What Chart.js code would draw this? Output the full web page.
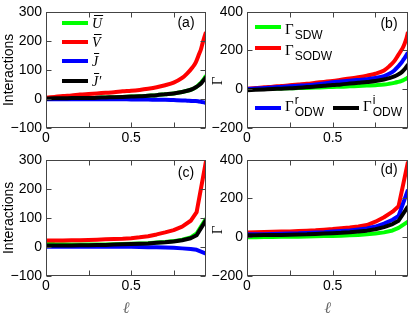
<!DOCTYPE html>
<html><head><meta charset="utf-8">
<script src="https://cdn.jsdelivr.net/npm/chart.js@4"></script>
<style>
html,body{margin:0;padding:0;background:#fff;width:411px;height:318px;overflow:hidden}
.p{position:absolute}
canvas{display:block}
</style></head><body>
<div class="p" style="left:0;top:0"><canvas id="ca" width="210" height="152"></canvas></div>
<div class="p" style="left:205px;top:0"><canvas id="cb" width="206" height="152"></canvas></div>
<div class="p" style="left:0;top:148px"><canvas id="cc" width="210" height="170"></canvas></div>
<div class="p" style="left:205px;top:148px"><canvas id="cd" width="206" height="170"></canvas></div>
<script>
// ---- data ----
const ellAB = [0,0.05,0.1,0.15,0.2,0.25,0.3,0.35,0.4,0.45,0.5,0.55,0.6,0.65,0.7,0.75,0.8,0.83,0.86,0.88,0.9,0.91,0.92,0.93,0.94];
const aU  = [1,2,2,3,3,3,4,5,6,7,8,9,11,13,16,19,24,28,34,40,50,55,63,71,80];
const aV  = [4,7,10,12,15,17,19,21,23,26,28,31,35,40,47,56,72,88,108,126,155,170,192,212,230];
const aJ  = [-1,-1,-1,-1,-1,-1,-1,-1,-1,-1,-2,-2,-2,-3,-3,-4,-5,-6,-7,-7,-9,-10,-11,-12,-14];
const aJp = [1,2,2,3,3,3,4,5,6,7,8,9,11,13,16,19,24,28,34,40,48,53,60,67,75];

const bSDW  = [0,1,2,3,4,5,6,7,9,10,12,13,15,17,19,21,24,28,33,37,42,46,50,55,62];
const bSODW = [3,6,10,13,17,20,24,28,33,38,43,49,55,62,70,80,97,118,145,172,200,215,235,260,295];
const bODWr = [1,4,7,9,12,15,18,21,25,30,36,40,44,48,52,58,68,80,97,115,135,148,160,175,190];
const bODWi = [-5,-3,-1,1,3,5,8,11,14,18,22,25,29,33,37,42,50,57,66,75,86,94,103,115,128];

const ellCD = [0,0.05,0.1,0.15,0.2,0.25,0.3,0.35,0.4,0.45,0.5,0.55,0.6,0.65,0.7,0.75,0.8,0.85,0.885,0.94];
const cU  = [12,10,9,8,8,8,8,8,9,10,11,12,13,15,17,20,25,33,46,98];
const cV  = [22,22,22,23,23,24,25,26,27,28,30,33,37,43,50,58,70,90,120,295];
const cJ  = [1,1,1,1,1,1,1,1,1,1,1,0,-1,-1,-2,-3,-5,-7,-10,-23];
const cJp = [5,5,5,5,6,6,7,7,8,9,10,11,12,14,16,19,23,30,40,92];

const dSDW  = [0,0,1,1,2,2,3,4,5,6,7,8,10,12,15,19,25,35,48,80];
const dSODW = [25,26,27,28,29,30,32,34,36,39,42,46,50,56,63,80,103,132,160,390];
const dODWr = [15,15,16,17,18,19,20,22,24,26,29,32,35,40,45,55,70,90,110,245];
const dODWi = [10,10,11,11,12,13,14,15,17,19,21,23,26,30,34,41,52,68,85,160];

const xTicksShown = [0, 0.5];
const yTicksAC = [-100, 300, 100];
const yTicksBD = [-200, 400, 200];

const GREEN='#00ff00', RED='#ff0000', BLUE='#0000ff', BLACK='#000000';
const SANS = '"Liberation Sans", Arial, sans-serif';
const SERIF = '"Liberation Serif", "Times New Roman", serif';

function pts(xs, ys){ return xs.map((x,i)=>({x, y: ys[i]})); }
function ds(label, xs, ys, color, order, extra){
  return Object.assign({label, data: pts(xs, ys), borderColor: color, backgroundColor: color,
    borderWidth: 4, pointRadius: 0, fill: false, order, clip: 0, borderJoinStyle:'round', borderCapStyle:'butt'}, extra||{});
}

const boxTicks = {
  id: 'boxTicks',
  afterDatasetsDraw(chart){
    const {ctx, chartArea: a, scales} = chart;
    ctx.save();
    ctx.strokeStyle = '#444'; ctx.lineWidth = 1;
    const L=Math.round(a.left)+0.5, R=Math.round(a.right)-0.5, T=Math.round(a.top)+0.5, B=Math.round(a.bottom)-0.5;
    const len = 5;
    ctx.beginPath();
    scales.x.ticks.forEach(t=>{ const px=Math.round(scales.x.getPixelForValue(t.value))+0.5;
      ctx.moveTo(px,B); ctx.lineTo(px,B-len); ctx.moveTo(px,T); ctx.lineTo(px,T+len); });
    scales.y.ticks.forEach(t=>{ const py=Math.round(scales.y.getPixelForValue(t.value))+0.5;
      ctx.moveTo(L,py); ctx.lineTo(L+len,py); ctx.moveTo(R,py); ctx.lineTo(R-len,py); });
    ctx.stroke();
    ctx.strokeRect(L, T, R-L, B-T);
    ctx.restore();
  }
};

const mLegend = {
  id: 'mLegend',
  afterDraw(chart, args, opts){
    if(!opts || !opts.items) return;
    const ctx = chart.ctx;
    ctx.save();
    chart.data.datasets.forEach((d,i)=>{
      const it = opts.items[i]; if(!it) return;
      ctx.strokeStyle = d.borderColor; ctx.lineWidth = 4;
      ctx.beginPath(); ctx.moveTo(it.x, it.y); ctx.lineTo(it.x+26, it.y); ctx.stroke();
      ctx.fillStyle = '#000'; ctx.textBaseline = 'alphabetic'; ctx.textAlign='left';
      let tx = it.x + 30;
      if (opts.style === 'bar') {
        ctx.font = 'italic 14px ' + SERIF;
        const by = it.y + 5;
        ctx.fillText(d.label, tx, by);
        const w = ctx.measureText(d.label.replace('′','')).width;
        ctx.lineWidth = 1; ctx.strokeStyle = '#000';
        ctx.beginPath(); ctx.moveTo(tx+2, by-12.5); ctx.lineTo(tx+w+1, by-12.5); ctx.stroke();
      } else {
        ctx.font = '15px ' + SERIF;
        const by = it.y + (d.sup ? 3 : 7);
        ctx.fillText(d.label, tx, by);
        const w = ctx.measureText(d.label).width;
        ctx.font = '12px ' + SANS;
        if (d.sup) ctx.fillText(d.sup, tx+w+1, by-7);
        if (d.sub) ctx.fillText(d.sub, tx+w+1, by+5);
      }
    });
    ctx.restore();
  }
};

const annot = {
  id: 'annot',
  afterDraw(chart, args, opts){
    if(!opts || !opts.texts) return;
    const ctx = chart.ctx;
    ctx.save();
    opts.texts.forEach(t=>{
      ctx.font = t.font; ctx.fillStyle = t.color || '#000';
      ctx.textAlign = 'center'; ctx.textBaseline = 'middle';
      ctx.translate(t.x, t.y); ctx.rotate(t.rot||0);
      ctx.fillText(t.text, 0, 0);
      ctx.setTransform(1,0,0,1,0,0);
    });
    ctx.restore();
  }
};

function make(id, datasets, cfg){
  const [ymin, ymax, ystep] = cfg.yt;
  return new Chart(document.getElementById(id), {
    type: 'line',
    data: { datasets },
    options: {
      responsive: false, animation: false, devicePixelRatio: 1,
      layout: { padding: { top: 8, right: cfg.padRight, left: 0, bottom: 0 } },
      scales: {
        x: {
          type: 'linear', min: 0, max: 0.94,
          grid: { display: false, drawTicks: false }, border: { display: false },
          ticks: { stepSize: 0.25, includeBounds: false, autoSkip: false, maxRotation: 0, padding: 2,
            color: '#000', font: { family: SANS, size: 14 },
            callback: v => xTicksShown.includes(v) ? String(v) : '' },
          title: cfg.xtitle ? { display: true, text: 'ℓ', color: '#666', font: { family: '"DejaVu Serif", serif', size: 16, style: 'italic' }, padding: { top: 0, bottom: 0 } } : { display: false },
          afterFit: s => { s.height = cfg.xh; }
        },
        y: {
          min: ymin, max: ymax,
          grid: { display: false, drawTicks: false }, border: { display: false },
          ticks: { stepSize: ystep, padding: 4, color: '#000', font: { family: SANS, size: 14, lineHeight: 1.1 },
            callback: v => String(v).replace('-', '\u2212') },
          title: cfg.ytitle ? { display: true, text: cfg.ytitle, color: '#000', font: { family: SANS, size: 14 }, padding: { top: 1, bottom: 0 } } : { display: false },
          afterFit: s => { s.width = cfg.yw; }
        }
      },
      plugins: {
        legend: { display: false }, tooltip: { enabled: false },
        mLegend: cfg.legend || {},
        annot: { texts: cfg.texts || [] }
      }
    },
    plugins: [boxTicks, mLegend, annot]
  });
}

const lab = { font: '14px ' + SANS };

make('ca', [
  ds('U', ellAB, aU, GREEN, 4, {cubicInterpolationMode:'monotone'}),
  ds('V', ellAB, aV, RED, 3, {cubicInterpolationMode:'monotone'}),
  ds('J', ellAB, aJ, BLUE, 2, {cubicInterpolationMode:'monotone'}),
  ds('J′', ellAB, aJp, BLACK, 1, {cubicInterpolationMode:'monotone'})
], { yt: yTicksAC, yw: 46, xh: 24, padRight: 4, ytitle: 'Interactions',
     legend: { style: 'bar', items: [{x:62,y:23},{x:62,y:42},{x:62,y:61},{x:62,y:81}] },
     texts: [Object.assign({text:'(a)', x:186, y:23}, lab)] });

make('cb', [
  ds('Γ', ellAB, bSDW, GREEN, 4, {cubicInterpolationMode:'monotone', sub:'SDW'}),
  ds('Γ', ellAB, bSODW, RED, 3, {cubicInterpolationMode:'monotone', sub:'SODW'}),
  ds('Γ', ellAB, bODWr, BLUE, 2, {cubicInterpolationMode:'monotone', sub:'ODW', sup:'r'}),
  ds('Γ', ellAB, bODWi, BLACK, 1, {cubicInterpolationMode:'monotone', sub:'ODW', sup:'i'})
], { yt: yTicksBD, yw: 42, xh: 24, padRight: 3,
     legend: { style: 'sub', items: [{x:50,y:27},{x:50,y:48},{x:50,y:108},{x:128,y:108}] },
     texts: [Object.assign({text:'(b)', x:184, y:24}, lab), {text:'Γ', x:13, y:81, rot:-Math.PI/2, font:'15px ' + SERIF}] });

make('cc', [
  ds('U', ellCD, cU, GREEN, 4),
  ds('V', ellCD, cV, RED, 3),
  ds('J', ellCD, cJ, BLUE, 2),
  ds('J′', ellCD, cJp, BLACK, 1)
], { yt: yTicksAC, yw: 46, xh: 42, padRight: 4, ytitle: 'Interactions', xtitle: true,
     texts: [Object.assign({text:'(c)', x:186, y:25}, lab)] });

make('cd', [
  ds('Γ', ellCD, dSDW, GREEN, 4),
  ds('Γ', ellCD, dSODW, RED, 3),
  ds('Γ', ellCD, dODWr, BLUE, 2),
  ds('Γ', ellCD, dODWi, BLACK, 1)
], { yt: yTicksBD, yw: 42, xh: 42, padRight: 3, xtitle: true,
     texts: [Object.assign({text:'(d)', x:184, y:22}, lab), {text:'Γ', x:13, y:82, rot:-Math.PI/2, font:'15px ' + SERIF}] });
</script>
</body></html>
